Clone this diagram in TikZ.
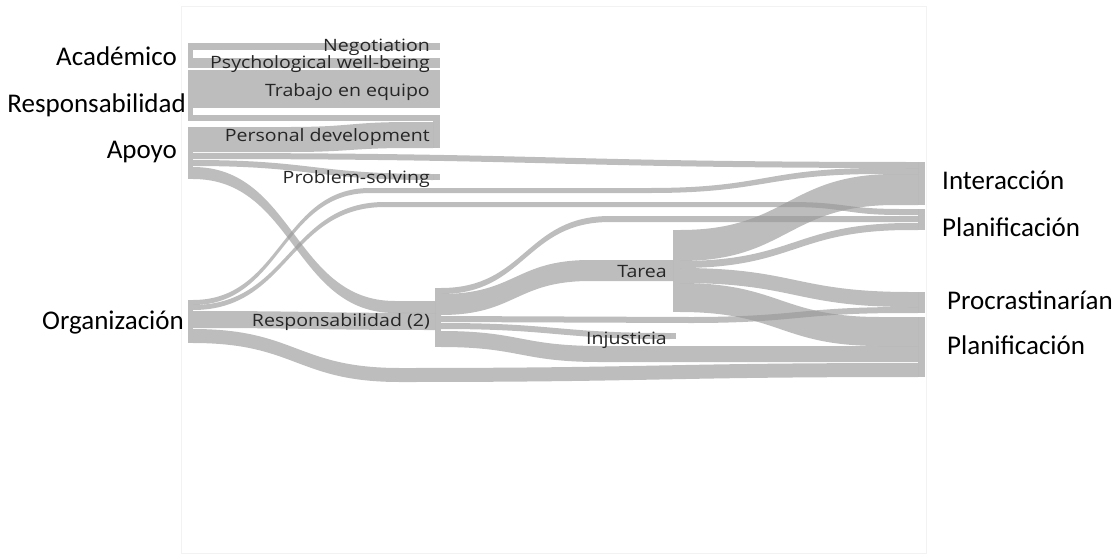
\documentclass[tikz,border=0pt]{standalone}
\usepackage{fontspec}
\setmainfont{Carlito}
\newfontfamily\segfont[FakeStretch=1.15]{Open Sans}
\usetikzlibrary{calc}
\tikzset{
  flow/.style={fill=black!40, fill opacity=0.65},
  sankeynode/.style={fill=black!40, fill opacity=0.65, draw=none, inner sep=0pt, outer sep=0pt, anchor=north west},
  sc/.style={to path={.. controls ($(\tikztostart)!.5!(\tikztotarget|-\tikztostart)$) and ($(\tikztotarget)!.5!(\tikztostart|-\tikztotarget)$) .. (\tikztotarget)}},
  biglabel/.style={font=\fontsize{27}{31}\selectfont, inner sep=0pt, text=black},
  midlabel/.style={font=\segfont\fontsize{17}{20}\selectfont, inner sep=0pt, text=black!85, anchor=base east},
}
\newcommand{\snode}[5]{\node[sankeynode, minimum width=#4pt, minimum height=#5pt] (#1) at (#2,#3) {};}
\begin{document}
\begin{tikzpicture}[x=1pt, y=-1pt]
\useasboundingbox (0,0) rectangle (1118,557);
\draw[black!5, line width=1pt] (181,6) rectangle (926,553);

% ---- sankey nodes ----
\snode{acad}{188}{43}{5}{25}
\snode{resp}{188}{70}{5}{51}
\snode{apoyo}{188}{127}{5}{52}
\snode{org}{188}{300}{5}{43}
\snode{neg}{433}{43}{7}{7}
\snode{psy}{433}{58}{7}{10}
\snode{tra}{433}{70}{7}{38}
\snode{per}{433}{115}{7}{33}
\snode{pro}{433}{174}{7}{6}
\snode{resdos}{435}{288}{6}{59}
\snode{tar}{673}{230}{7}{82}
\snode{inj}{670}{333}{6}{6}
\snode{inter}{918}{162}{7}{43}
\snode{plantop}{918}{209}{7}{21}
\snode{procr}{918}{292}{7}{21}
\snode{planbot}{918}{317}{7}{60}

% ---- flows ----
% Academico
\fill[flow] (193,43) -- (433,43) -- (433,50) -- (193,50) -- cycle;
\fill[flow] (193,58) -- (433,58) -- (433,68) -- (193,68) -- cycle;
% Responsabilidad
\fill[flow] (193,70) -- (433,70) -- (433,108) -- (193,108) -- cycle;
\fill[flow] (193,115) -- (433,115) -- (433,121) -- (193,121) -- cycle;
% Apoyo
\fill[flow] (193,127) -- (290,127) to[sc] (410,122) -- (433,122)
  -- (433,148) -- (410,148) to[sc] (290,152) -- (193,152) -- cycle;
\fill[flow] (193,153) to[sc] (918,162) -- (918,168) to[sc] (193,159) -- cycle;
\fill[flow] (193,160) to[sc] (433,174) -- (433,180) to[sc] (193,166) -- cycle;
\fill[flow] (193,167) to[sc] (395,301) -- (435,301) -- (435,313) -- (395,313) to[sc] (193,179) -- cycle;
% Organizacion
\fill[flow] (193,300) to[sc] (370,188) -- (650,188) to[sc] (880,168) -- (918,168)
  -- (918,174) -- (880,174) to[sc] (650,193) -- (370,193) to[sc] (193,305) -- cycle;
\fill[flow] (193,305) to[sc] (385,202) -- (790,202) to[sc] (900,209) -- (918,209)
  -- (918,215) -- (900,215) to[sc] (790,207) -- (385,207) to[sc] (193,310) -- cycle;
\fill[flow] (193,311) to[sc] (435,313) -- (435,330) to[sc] (193,328) -- cycle;
\fill[flow] (193,329) to[sc] (400,368) to[sc] (918,363)
  -- (918,377) to[sc] (400,382) to[sc] (193,343) -- cycle;
% Responsabilidad (2)
\fill[flow] (441,288) to[sc] (610,216) -- (918,216) -- (918,222) -- (610,222) to[sc] (441,294) -- cycle;
\fill[flow] (441,294) to[sc] (590,260) -- (673,260) -- (673,281) -- (590,281) to[sc] (441,315) -- cycle;
\fill[flow] (441,316) to[sc] (690,317) to[sc] (905,307) -- (918,307)
  -- (918,313) -- (905,313) to[sc] (690,323) to[sc] (441,322) -- cycle;
\fill[flow] (441,323) to[sc] (670,333) -- (670,339) to[sc] (441,329) -- cycle;
\fill[flow] (441,331) to[sc] (600,346) -- (918,346) -- (918,362) -- (600,362) to[sc] (441,347) -- cycle;
% Tarea
\fill[flow] (680,230) to[sc] (895,174) -- (918,174) -- (918,205) -- (895,205) to[sc] (680,261) -- cycle;
\fill[flow] (680,261) to[sc] (910,223) -- (918,223) -- (918,230) -- (910,230) to[sc] (680,268) -- cycle;
\fill[flow] (680,268) to[sc] (910,292) -- (918,292) -- (918,307) -- (910,307) to[sc] (680,283) -- cycle;
\fill[flow] (680,283) to[sc] (880,317) -- (918,317) -- (918,346) -- (880,346) to[sc] (680,312) -- cycle;

% ---- labels ----
\node[biglabel, anchor=base east] (lacad) at (177,65) {Académico};
\node[biglabel, anchor=base east] (lresp) at (186,112) {Responsabilidad};
\node[biglabel, anchor=base east] (lapoyo) at (177,158) {Apoyo};
\node[biglabel, anchor=base east] (lorg) at (184,329) {Organización};
\node[biglabel, anchor=base west] (linter) at (942,189) {Interacción};
\node[biglabel, anchor=base west] (lplantop) at (942,236) {Planificación};
\node[biglabel, anchor=base west] (lprocr) at (947,309) {Procrastinarían};
\node[biglabel, anchor=base west] (lplanbot) at (947,354) {Planificación};

\node[midlabel] (lneg) at (430,51) {Negotiation};
\node[midlabel] (lpsy) at (430,68) {Psychological well-being};
\node[midlabel] (ltra) at (430,96) {Trabajo en equipo};
\node[midlabel] (lper) at (430,141) {Personal development};
\node[midlabel] (lpro) at (430,183) {Problem-solving};
\node[midlabel] (lresdos) at (430,326) {Responsabilidad (2)};
\node[midlabel] (ltar) at (667,277) {Tarea};
\node[midlabel] (linj) at (667,344) {Injusticia};
\end{tikzpicture}
\end{document}
